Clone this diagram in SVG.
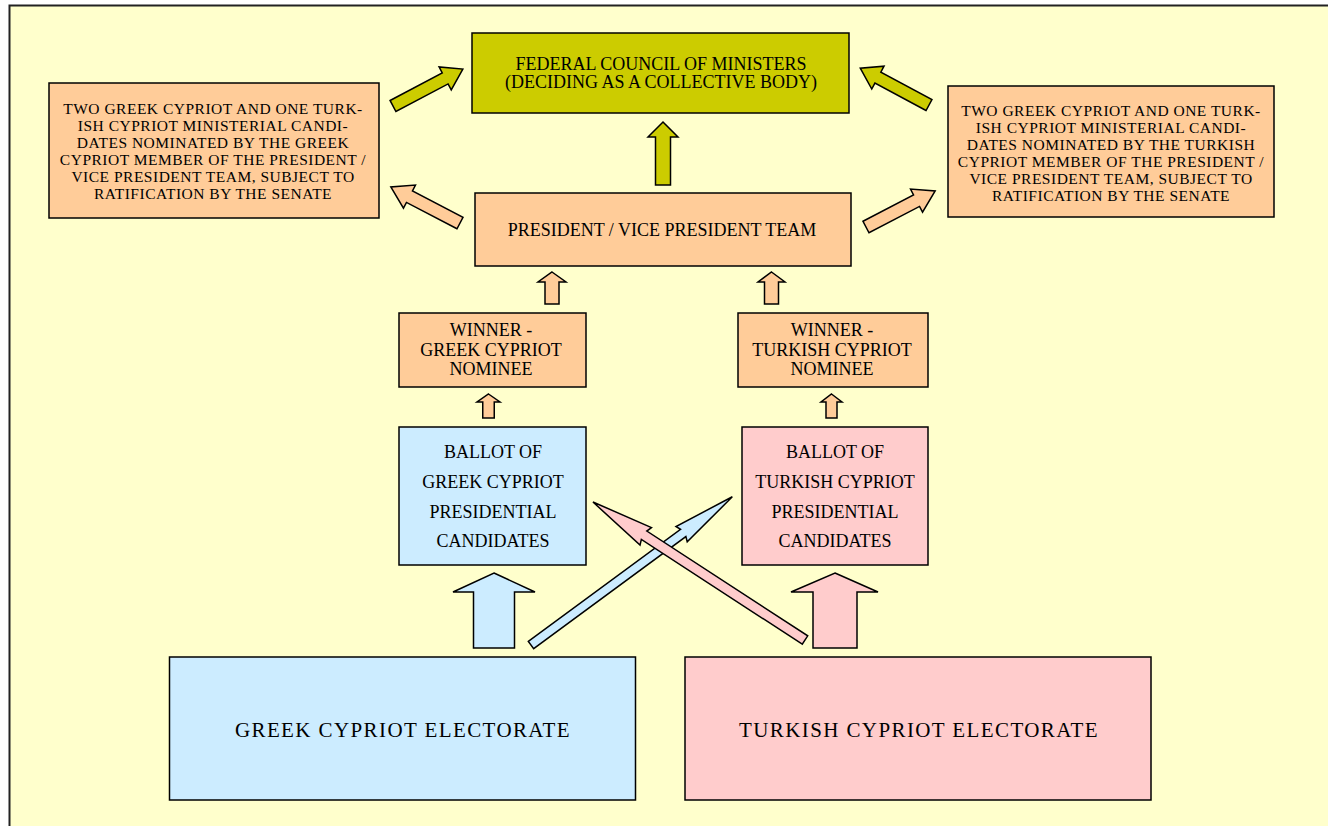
<svg xmlns="http://www.w3.org/2000/svg" width="1328" height="826" viewBox="0 0 1328 826">
<style>
.box{stroke:#000;stroke-width:1.5}
.peach{fill:#FFCC99}
.olive{fill:#CCCC00}
.blue{fill:#CCECFF}
.pink{fill:#FFCCCC}
.arr{stroke:#000;stroke-width:1.5;stroke-linejoin:miter}
text{font-family:"Liberation Serif","Times New Roman",Times,"Nimbus Roman","FreeSerif","DejaVu Serif",serif;fill:#000;text-anchor:middle}
.t18{font-size:18px}
.tmin{font-size:15.5px;letter-spacing:0.5px}
.tel{font-size:21px;letter-spacing:1.4px}
</style>
<rect x="9.5" y="5.5" width="1330" height="830" fill="#FFFFCC" stroke="#222" stroke-width="2"/>

<g id="connectors">
  <polygon class="arr olive" points="663,122 678,137 670.5,137 670.5,185 655.5,185 655.5,137 648,137"/>
  <polygon class="arr peach" points="552,272 566,282 559,282 559,304 545,304 545,282 538,282"/>
  <polygon class="arr peach" points="771.5,272 785,282 778.5,282 778.5,304 764.5,304 764.5,282 758,282"/>
  <polygon class="arr peach" points="488.5,394 500,402 494.25,402 494.25,418 482.75,418 482.75,402 477,402"/>
  <polygon class="arr peach" points="831.5,394 842,402 837,402 837,418 826,418 826,402 821,402"/>
  <polygon class="arr blue" points="494,573 535,592 514.5,592 514.5,648 473.5,648 473.5,592 453,592"/>
  <polygon class="arr pink" points="835,573 878,592 857,592 857,648 813,648 813,592 791,592"/>
  <g transform="translate(393,106) rotate(-27.86)">
    <polygon class="arr olive" points="0,-6.25 59,-6.25 59,-13 79,0 59,13 59,6.25 0,6.25"/>
  </g>
  <g transform="translate(929,105) rotate(-151.8)">
    <polygon class="arr olive" points="0,-6.25 58,-6.25 58,-13 78,0 58,13 58,6.25 0,6.25"/>
  </g>
  <g transform="translate(460,223) rotate(-152.45)">
    <polygon class="arr peach" points="0,-6.5 57,-6.5 57,-13 78,0 57,13 57,6.5 0,6.5"/>
  </g>
  <g transform="translate(866,227) rotate(-27.55)">
    <polygon class="arr peach" points="0,-6.5 57,-6.5 57,-13 78,0 57,13 57,6.5 0,6.5"/>
  </g>
  <g transform="translate(531,645) rotate(-36.36)">
    <polygon class="arr blue" points="0,-4.5 189,-4.5 187,-9.5 250,0 187,9.5 189,4.5 0,4.5"/>
  </g>
  <g transform="translate(805,640) rotate(-146.94)">
    <polygon class="arr pink" points="0,-5 192,-5 190,-10.5 253,0 190,10.5 192,5 0,5"/>
  </g>
</g>

<g id="federal-council">
  <rect class="box olive" x="472" y="33" width="377" height="80"/>
  <text class="t18" x="661" y="70">FEDERAL COUNCIL OF MINISTERS</text>
  <text class="t18" x="661" y="88">(DECIDING AS A COLLECTIVE BODY)</text>
</g>

<g id="ministers-greek">
  <rect class="box peach" x="49" y="83" width="330" height="135"/>
  <text class="tmin" x="213" y="114">TWO GREEK CYPRIOT AND ONE TURK-</text>
  <text class="tmin" x="213" y="131">ISH CYPRIOT MINISTERIAL CANDI-</text>
  <text class="tmin" x="213" y="148">DATES NOMINATED BY THE GREEK</text>
  <text class="tmin" x="213" y="165">CYPRIOT MEMBER OF THE PRESIDENT /</text>
  <text class="tmin" x="213" y="182">VICE PRESIDENT TEAM, SUBJECT TO</text>
  <text class="tmin" x="213" y="199">RATIFICATION BY THE SENATE</text>
</g>

<g id="ministers-turkish">
  <rect class="box peach" x="948" y="86" width="326" height="131"/>
  <text class="tmin" x="1111" y="116">TWO GREEK CYPRIOT AND ONE TURK-</text>
  <text class="tmin" x="1111" y="133">ISH CYPRIOT MINISTERIAL CANDI-</text>
  <text class="tmin" x="1111" y="150">DATES NOMINATED BY THE TURKISH</text>
  <text class="tmin" x="1111" y="167">CYPRIOT MEMBER OF THE PRESIDENT /</text>
  <text class="tmin" x="1111" y="184">VICE PRESIDENT TEAM, SUBJECT TO</text>
  <text class="tmin" x="1111" y="201">RATIFICATION BY THE SENATE</text>
</g>

<g id="president-team">
  <rect class="box peach" x="475" y="193" width="376" height="73"/>
  <text class="t18" x="662" y="236">PRESIDENT / VICE PRESIDENT TEAM</text>
</g>

<g id="winner-greek">
  <rect class="box peach" x="399" y="313" width="187" height="74"/>
  <text class="t18" x="491" y="336">WINNER -</text>
  <text class="t18" x="491" y="356">GREEK CYPRIOT</text>
  <text class="t18" x="491" y="375">NOMINEE</text>
</g>

<g id="winner-turkish">
  <rect class="box peach" x="738" y="313" width="190" height="74"/>
  <text class="t18" x="832" y="336">WINNER -</text>
  <text class="t18" x="832" y="356">TURKISH CYPRIOT</text>
  <text class="t18" x="832" y="375">NOMINEE</text>
</g>

<g id="ballot-greek">
  <rect class="box blue" x="399" y="427" width="187" height="138"/>
  <text class="t18" x="493" y="458">BALLOT OF</text>
  <text class="t18" x="493" y="488">GREEK CYPRIOT</text>
  <text class="t18" x="493" y="518">PRESIDENTIAL</text>
  <text class="t18" x="493" y="547">CANDIDATES</text>
</g>

<g id="ballot-turkish">
  <rect class="box pink" x="742" y="427" width="186" height="138"/>
  <text class="t18" x="835" y="458">BALLOT OF</text>
  <text class="t18" x="835" y="488">TURKISH CYPRIOT</text>
  <text class="t18" x="835" y="518">PRESIDENTIAL</text>
  <text class="t18" x="835" y="547">CANDIDATES</text>
</g>

<g id="electorate-greek">
  <rect class="box blue" x="169.5" y="657" width="466" height="143" stroke-width="2"/>
  <text class="tel" x="403" y="737">GREEK CYPRIOT ELECTORATE</text>
</g>

<g id="electorate-turkish">
  <rect class="box pink" x="685" y="657" width="466" height="143" stroke-width="2"/>
  <text class="tel" x="919" y="737">TURKISH CYPRIOT ELECTORATE</text>
</g>
</svg>
